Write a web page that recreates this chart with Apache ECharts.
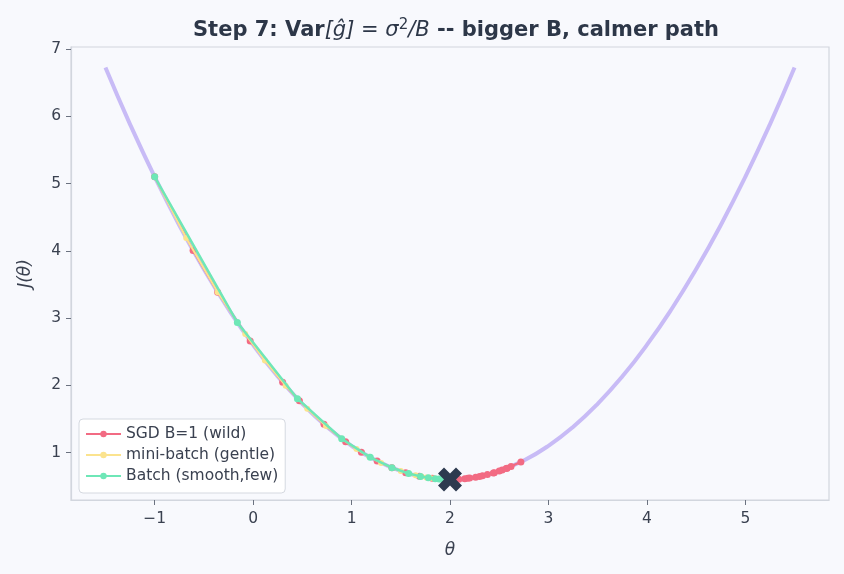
<!DOCTYPE html>
<html>
<head>
<meta charset="utf-8">
<script src="https://cdn.jsdelivr.net/npm/echarts@6/dist/echarts.min.js"></script>
<style>
  html, body { margin: 0; padding: 0; background: #f8f9fd; }
  #grafico { width: 844px; height: 574px; }
</style>
</head>
<body>
<div id="grafico"></div>
<script>
// --- dados ---
// curva J(theta)
var curvaTheta = [-1.5, -1.25, -1, -0.75, -0.5, -0.25, 0, 0.25, 0.5, 0.75, 1, 1.25, 1.5, 1.75, 2,
  2.25, 2.5, 2.75, 3, 3.25, 3.5, 3.75, 4, 4.25, 4.5, 4.75, 5, 5.25, 5.5];
var curvaJ = [6.725, 5.881, 5.1, 4.381, 3.725, 3.131, 2.6, 2.131, 1.725, 1.381, 1.1, 0.881, 0.725, 0.631, 0.6,
  0.631, 0.725, 0.881, 1.1, 1.381, 1.725, 2.131, 2.6, 3.131, 3.725, 4.381, 5.1, 5.881, 6.725];

// SGD B=1
var sgdTheta = [-1, -0.61, -0.36, -0.03, 0.30, 0.47, 0.72, 0.94, 1.10, 1.26, 1.41, 1.55, 1.69, 1.82, 1.95,
  2.15, 2.09, 2.26, 2.18, 2.33, 2.45, 2.38, 2.53, 2.58, 2.62, 2.72, 2.50, 2.30, 2.57, 2.44, 2.20];
var sgdJ = [5.1, 4.006, 3.385, 2.66, 2.045, 1.77, 1.419, 1.162, 1.005, 0.874, 0.774, 0.701, 0.648, 0.616, 0.601,
  0.611, 0.604, 0.634, 0.616, 0.654, 0.701, 0.672, 0.74, 0.768, 0.792, 0.859, 0.725, 0.645, 0.762, 0.697, 0.62];

// mini-batch
var miniTheta = [-1, -0.68, -0.36, -0.08, 0.12, 0.33, 0.55, 0.74, 0.90, 1.05, 1.18, 1.30, 1.41, 1.50,
  1.58, 1.65, 1.71, 1.76, 1.80, 1.84, 1.87, 1.90, 1.92];
var miniJ = [5.1, 4.191, 3.385, 2.763, 2.367, 1.994, 1.651, 1.394, 1.205, 1.051, 0.936, 0.845, 0.774, 0.725,
  0.688, 0.661, 0.642, 0.629, 0.62, 0.613, 0.608, 0.605, 0.603];

// batch
var batchTheta = [-1, -0.16, 0.45, 0.90, 1.19, 1.41, 1.58, 1.70, 1.78, 1.85, 1.89, 1.92, 1.94];
var batchJ = [5.1, 2.933, 1.801, 1.205, 0.928, 0.774, 0.688, 0.645, 0.624, 0.611, 0.606, 0.603, 0.602];

// minimo
var minimo = [[2, 0.6]];

var xTicks = [-1, 0, 1, 2, 3, 4, 5];
var yTicks = [1, 2, 3, 4, 5, 6, 7];

function pares(xs, ys) {
    var out = [];
    for (var i = 0; i < xs.length; i++) out.push([xs[i], ys[i]]);
    return out;
}

var fonte = '"DejaVu Sans"';
var corTexto = '#3a4150';
var grafico = echarts.init(document.getElementById('grafico'));

var option = {
    backgroundColor: '#f8f9fd',
    animation: false,
    textStyle: { fontFamily: fonte },
    title: {
        text: '{b|Step 7: Var}{m|[ĝ] = σ}{s|2}{m|/B}{b| -- bigger B, calmer path}',
        left: 451,
        textAlign: 'center',
        top: 13,
        textStyle: {
            fontFamily: fonte,
            rich: {
                b: { fontFamily: fonte, fontWeight: 'bold', fontSize: 21, color: '#2d3748' },
                m: { fontFamily: fonte, fontWeight: 'normal', fontStyle: 'italic', fontSize: 21, color: '#2d3748' },
                s: { fontFamily: fonte, fontWeight: 'normal', fontSize: 15, color: '#2d3748', padding: [0, 0, 11, 0] }
            }
        }
    },
    legend: {
        orient: 'vertical',
        left: 79,
        top: 419,
        itemWidth: 35,
        itemHeight: 8,
        itemGap: 5,
        padding: [7, 7, 9, 6],
        backgroundColor: '#ffffff',
        borderColor: '#d5d9e0',
        borderWidth: 1,
        borderRadius: 4,
        textStyle: { fontFamily: fonte, fontSize: 15.5, color: corTexto },
        data: ['SGD B=1 (wild)', 'mini-batch (gentle)', 'Batch (smooth,few)']
    },
    grid: {
        left: 71, right: 15, top: 47, bottom: 74,
        show: true, borderColor: '#d2d6de', borderWidth: 1.2, backgroundColor: '#f8f9fd'
    },
    xAxis: {
        type: 'value',
        min: -1.85, max: 5.85,
        name: 'θ',
        nameLocation: 'middle',
        nameGap: 42,
        nameTextStyle: { fontFamily: fonte, fontStyle: 'italic', fontSize: 17, color: corTexto },
        splitLine: { show: false },
        axisLine: { show: true, onZero: false, lineStyle: { color: '#d2d6de', width: 1.2 } },
        axisTick: { show: true, customValues: xTicks, length: 5, lineStyle: { color: '#6b7280' } },
        axisLabel: {
            customValues: xTicks, margin: 11,
            fontFamily: fonte, fontSize: 15.5, color: corTexto,
            formatter: function (v) { return v < 0 ? '\u2212' + Math.abs(v) : String(v); }
        }
    },
    yAxis: {
        type: 'value',
        min: 0.294, max: 7.031,
        name: 'J(θ)',
        nameLocation: 'middle',
        nameGap: 37,
        nameTextStyle: { fontFamily: fonte, fontStyle: 'italic', fontSize: 17, color: corTexto },
        splitLine: { show: false },
        axisLine: { show: true, onZero: false, lineStyle: { color: '#d2d6de', width: 1.2 } },
        axisTick: { show: true, customValues: yTicks, length: 5, lineStyle: { color: '#6b7280' } },
        axisLabel: {
            customValues: yTicks, margin: 10,
            fontFamily: fonte, fontSize: 15.5, color: corTexto
        }
    },
    series: [
        {
            name: 'curva',
            type: 'line',
            data: pares(curvaTheta, curvaJ),
            smooth: true,
            showSymbol: false,
            lineStyle: { color: '#c8bbf6', width: 4 },
            z: 1
        },
        {
            name: 'SGD B=1 (wild)',
            type: 'line',
            data: pares(sgdTheta, sgdJ),
            symbol: 'circle',
            symbolSize: 7,
            color: '#f26b83',
            lineStyle: { color: '#f26b83', width: 2 },
            itemStyle: { color: '#f26b83' },
            z: 2
        },
        {
            name: 'mini-batch (gentle)',
            type: 'line',
            data: pares(miniTheta, miniJ),
            symbol: 'circle',
            symbolSize: 6,
            color: '#fbe38e',
            lineStyle: { color: '#fbe38e', width: 2 },
            itemStyle: { color: '#fbe38e' },
            z: 3
        },
        {
            name: 'Batch (smooth,few)',
            type: 'line',
            data: pares(batchTheta, batchJ),
            symbol: 'circle',
            symbolSize: 7,
            color: '#6ee7b7',
            lineStyle: { color: '#6ee7b7', width: 2.5 },
            itemStyle: { color: '#6ee7b7' },
            z: 4
        },
        {
            name: 'minimo',
            type: 'scatter',
            data: minimo,
            symbol: 'path://M2.5,0 L5,2.5 L7.5,0 L10,2.5 L7.5,5 L10,7.5 L7.5,10 L5,7.5 L2.5,10 L0,7.5 L2.5,5 L0,2.5 Z',
            symbolSize: 24,
            itemStyle: { color: '#2d3a4f', opacity: 1 },
            z: 5
        }
    ]
};
grafico.setOption(option);
</script>
</body>
</html>
